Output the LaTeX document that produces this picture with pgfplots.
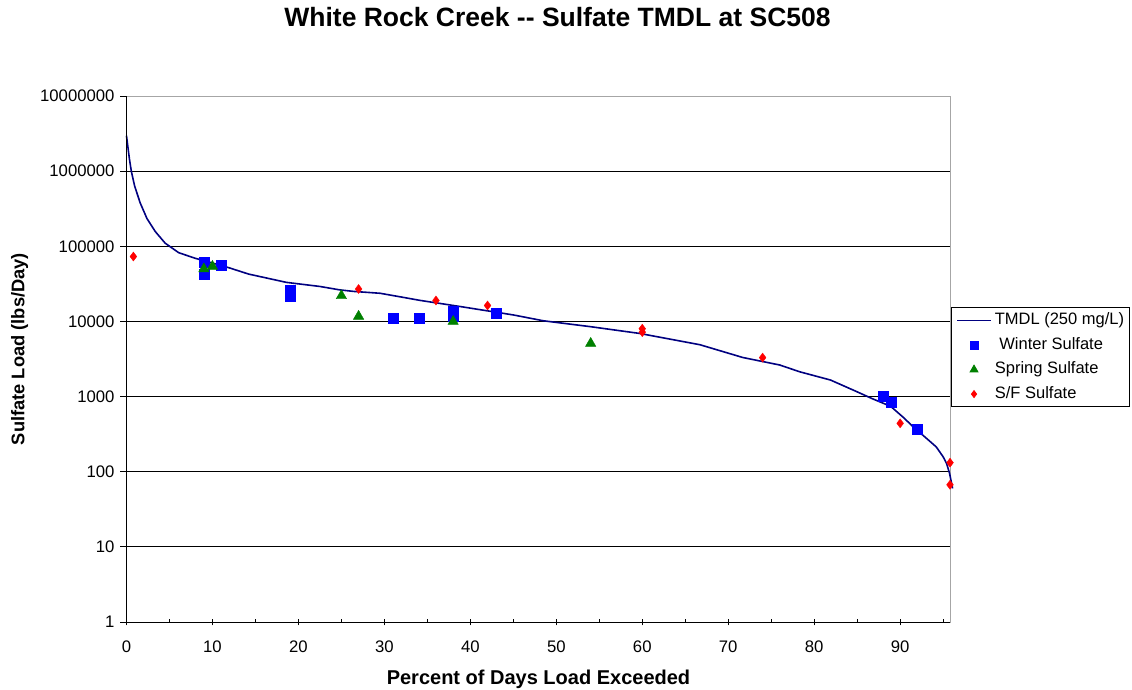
\documentclass[border=0pt]{standalone}
\usepackage{fontspec}
\setmainfont{Liberation Sans}
\usepackage{pgfplots}
\pgfplotsset{compat=1.18}
\definecolor{navy}{RGB}{0,0,128}
\definecolor{sgreen}{RGB}{0,128,0}
\pgfplotsset{
  lineleg/.style={legend image code/.code={\draw[##1] (0pt,0pt) -- (34pt,0pt);}},
  markleg/.style={legend image code/.code={\draw[mark repeat=2,mark phase=2,##1,mark size=#1] plot coordinates {(0pt,0pt) (17pt,0pt) (34pt,0pt)};}},
}
\begin{document}
\begin{tikzpicture}
\path[use as bounding box] (0,0) rectangle (1132pt,689pt);
\node[font=\fontsize{26.5}{30}\selectfont\bfseries, anchor=base] at (557.5pt,662.3pt) {White Rock Creek -{}- Sulfate TMDL at SC508};
\node[font=\fontsize{18.3}{22}\selectfont\bfseries, rotate=90, anchor=base] at (24.3pt,340pt) {Sulfate Load (lbs/Day)};
\node[font=\fontsize{20}{24}\selectfont\bfseries, anchor=base] at (538.5pt,5pt) {Percent of Days Load Exceeded};
\begin{axis}[
  at={(126.5pt,67pt)}, anchor=south west,
  scale only axis, width=823.5pt, height=526pt,
  xmin=0, xmax=95.8, ymode=log, log basis y=10, ymin=1, ymax=1e7,
  clip=false,
  xtick={0,10,20,30,40,50,60,70,80,90},
  xticklabels={0,10,20,30,40,50,60,70,80,90},
  minor xtick={5,15,25,35,45,55,65,75,85,95},
  ytick={1,10,100,1000,10000,100000,1000000,10000000},
  yticklabels={1,10,100,1000,10000,100000,1000000,10000000},
  yminorticks=false,
  xtick pos=bottom, ytick pos=left,
  tick align=outside,
  major tick length=6.5pt, minor tick length=3pt,
  major x tick style={yshift=3.2pt},
  minor x tick style={yshift=3pt},
  tick style={black, line width=0.8pt},
  ymajorgrids, major grid style={black, line width=0.8pt},
  axis line style={gray!70, line width=1pt},
  ticklabel style={font=\fontsize{16.7}{19}\selectfont},
  xticklabel style={yshift=-9pt},
  yticklabel style={xshift=-2pt},
  legend style={at={(1.001,0.598)}, anchor=north west, draw=black, line width=0.8pt,
    fill=white, font=\fontsize{16.5}{19}\selectfont, inner xsep=5pt, inner ysep=5pt,
    row sep=9pt, column sep=3pt,
    nodes={inner sep=0pt, text height=12pt, text depth=3.5pt}},
  legend cell align=left,
]
\addplot[navy, line width=1.6pt, mark=none, lineleg] coordinates {
(0,2951000) (0.33,1479000) (0.56,1000000) (0.95,631000) (1.6,376000) (2.38,234000)
(3.35,157000) (4.5,110000) (6.07,82200) (8.0,69200) (11.5,53700) (14.2,42700)
(18.6,33100) (22.5,29200) (24.8,26300) (26.4,25100) (29.5,23700) (32.2,20900)
(34.1,19100) (38.8,15800) (45,12200) (48.5,10200) (54,8510) (59.7,6920)
(66.7,4900) (71.7,3310) (76.0,2630) (78.3,2140) (81.9,1660) (84.9,1170)
(86.8,933) (88.9,741) (90.3,537) (91.5,398) (93.0,282) (94.2,214) (95.0,158)
(95.4,129) (95.75,95) (96.1,60)};
\addlegendentry{TMDL (250 mg/L)}
\addplot[only marks, mark=square*, mark size=5pt, draw=blue, fill=blue, markleg=4pt] coordinates {
(9,62000) (9,43000) (11,56000) (19,26000) (19,21500) (31,11000) (34,11000)
(38,13500) (38,11800) (43,13000) (88,1000) (89,850) (92,370)};
\addlegendentry{\hspace{4.5pt}Winter Sulfate}
\addplot[only marks, mark=triangle*, mark size=6pt, draw=sgreen, fill=sgreen, markleg=4.5pt] coordinates {
(9,50000) (10,54000) (25,22000) (27,11700) (38,10000) (54,5100)};
\addlegendentry{Spring Sulfate}
\addplot[only marks, mark=diamond*, mark size=4.5pt, draw=red, fill=red, markleg=3.5pt] coordinates {
(0.8,73000) (27,27000) (36,19000) (42,16300) (60,8000) (60,7200) (74,3300)
(90,440) (95.8,132) (95.8,67)};
\addlegendentry{S/F Sulfate}
\draw[black, line width=1pt] (rel axis cs:0,1) -- (rel axis cs:0,0) -- (rel axis cs:1,0);
\end{axis}
\end{tikzpicture}
\end{document}
